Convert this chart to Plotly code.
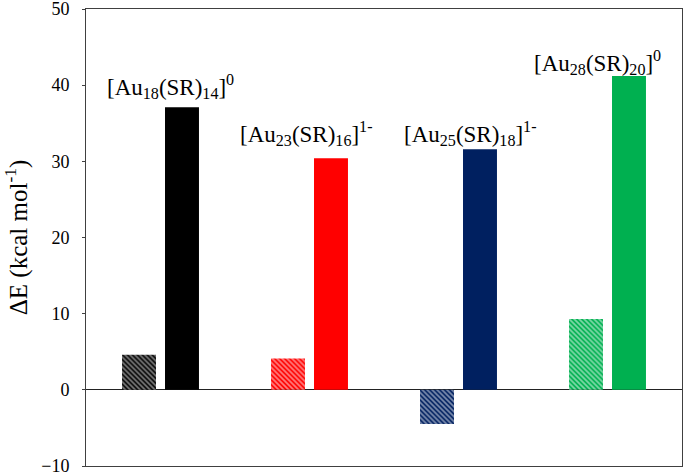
import plotly.graph_objects as go

groups = ["Au18", "Au23", "Au25", "Au28"]
hatched_values = [4.6, 4.1, -4.5, 9.3]
solid_values = [37.1, 30.4, 31.6, 41.2]
colors = ["#000000", "#FF0000", "#002060", "#00B050"]
labels = [
    "[Au<sub>18</sub>(SR)<sub>14</sub>]<sup>0</sup>",
    "[Au<sub>23</sub>(SR)<sub>16</sub>]<sup>1-</sup>",
    "[Au<sub>25</sub>(SR)<sub>18</sub>]<sup>1-</sup>",
    "[Au<sub>28</sub>(SR)<sub>20</sub>]<sup>0</sup>",
]
y_ticks = [-10, 0, 10, 20, 30, 40, 50]

FONT = "Liberation Serif"

fig = go.Figure()
fig.add_trace(go.Bar(
    x=groups, y=hatched_values,
    marker=dict(
        color=colors,
        line=dict(width=0),
        pattern=dict(shape="\\", fgcolor=colors, bgcolor="white", size=3.5, solidity=0.5),
    ),
    showlegend=False,
))
fig.add_trace(go.Bar(
    x=groups, y=solid_values,
    marker=dict(color=colors, line=dict(width=0)),
    showlegend=False,
))

label_pos = [(-55.5, 39.8), (-71.5, 33.7), (-56.5, 33.7), (-75.5, 43.0)]
for g, lab, (xs, yv) in zip(groups, labels, label_pos):
    fig.add_annotation(
        x=g, y=yv, xref="x", yref="y", text=lab, showarrow=False,
        xanchor="left", yanchor="middle", xshift=xs,
        font=dict(family=FONT, size=23, color="black"),
    )

fig.update_layout(
    width=685, height=475,
    margin=dict(l=86, r=3, t=9, b=9),
    paper_bgcolor="white", plot_bgcolor="white",
    barmode="group", bargap=0.423, bargroupgap=0.21,
    font=dict(family=FONT, color="black"),
)
fig.update_xaxes(
    showticklabels=False, ticks="", showgrid=False,
    showline=True, linecolor="#404040", linewidth=1, mirror=True,
)
fig.update_yaxes(
    range=[-10, 50], tickvals=y_ticks, ticks="outside", ticklen=3,
    tickcolor="#404040", showgrid=False, automargin=False,
    ticklabeloverflow="allow",
    showline=True, linecolor="#404040", linewidth=1, mirror=True,
    zeroline=True, zerolinecolor="#222222", zerolinewidth=1,
    tickfont=dict(family=FONT, size=18, color="black"),
    ticklabelstandoff=9,
    title=dict(text="ΔE (kcal mol<sup>-1</sup>)", font=dict(family=FONT, size=25, color="black"), standoff=16),
)

fig.write_html(
    "out.html",
    config={"displayModeBar": False},
    post_script="document.body.style.margin='0';document.body.style.padding='0';",
)
